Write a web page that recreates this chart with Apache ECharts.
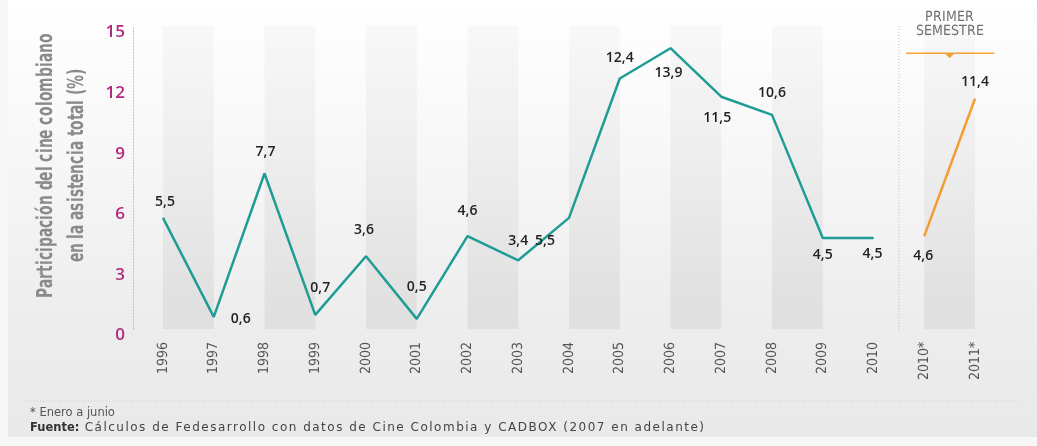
<!DOCTYPE html>
<html>
<head>
<meta charset="utf-8">
<script src="https://cdn.jsdelivr.net/npm/echarts@6/dist/echarts.min.js"></script>
<style>
@font-face{font-family:'CondB';font-weight:bold;
  src:local('Liberation Sans Narrow Bold'),local('LiberationSansNarrow-Bold'),local('DejaVu Sans Condensed Bold'),local('DejaVuSansCondensed-Bold');}
@font-face{font-family:'CondR';font-weight:normal;
  src:local('Liberation Sans Narrow'),local('LiberationSansNarrow-Regular'),local('DejaVu Sans Condensed'),local('DejaVuSansCondensed');}
html,body{margin:0;padding:0;background:#f7f7f7;}
#bg{position:absolute;left:8px;top:0;width:1029px;height:437px;
background:linear-gradient(to bottom,#ffffff 0%,#f7f7f7 35%,#ededed 72%,#e9e9e9 100%);}
#chart{position:absolute;left:0;top:0;width:1037px;height:446px;}
#foot{position:absolute;left:30px;top:405px;font-family:"DejaVu Sans",Verdana,sans-serif;font-size:11.5px;line-height:15px;color:#555;}
#foot .src{letter-spacing:1.5px;color:#444;font-size:12px;}
#foot b{color:#333;letter-spacing:0;}
</style>
</head>
<body>
<div id="bg"></div>
<div id="chart"></div>
<div id="foot"></div>
<script>
// ---- data ----
const categories = ['1996','1997','1998','1999','2000','2001','2002','2003','2004','2005','2006','2007','2008','2009','2010','2010*','2011*'];
const annualShare = [5.5,0.6,7.7,0.7,3.6,0.5,4.6,3.4,5.5,12.4,13.9,11.5,10.6,4.5,4.5,null,null];
const firstSemesterShare = [null,null,null,null,null,null,null,null,null,null,null,null,null,null,null,4.6,11.4];
const yTicks = [0,3,6,9,12,15];
const bandPairs = [['1996','1997'],['1998','1999'],['2000','2001'],['2002','2003'],['2004','2005'],['2006','2007'],['2008','2009'],['2010*','2011*']];
const yAxisTitleLines = ['Participación del cine colombiano','en la asistencia total (%)'];
const headerText = 'PRIMER\nSEMESTRE';
const noteText = '* Enero a junio';
const sourceLabel = 'Fuente:';
const sourceText = ' Cálculos de Fedesarrollo con datos de Cine Colombia y CADBOX (2007 en adelante)';

// label placement (style only): offsets of label centre from point
const labelOffsets = [[2,-16],[27,2],[1,-21],[5,-27],[-2,-26],[0,-32],[0,-25],[0,-19],[-24,23],[0,-21],[-2,25],[-4,21],[0,-22],[0,17],[-1,16],[-1,20],[0,-17]];

document.getElementById('foot').innerHTML = noteText + '<br><b>' + sourceLabel + '</b><span class="src">' + sourceText + '</span>';

const fmt = v => String(v).replace('.', ',');
function withLabels(arr){
  return arr.map((v,i)=> v==null ? null : {value:v, label:{offset:labelOffsets[i]}});
}
const COND_R = 'CondR, "Liberation Sans Narrow", "DejaVu Sans Condensed", sans-serif';
const COND_B = 'CondB, "Liberation Sans Narrow", "DejaVu Sans Condensed", sans-serif';

function render(){
  const labelStyle = {show:true, position:'inside', formatter:p=>fmt(p.value),
    color:'#222', fontSize:14, fontWeight:600, fontFamily:'"Open Sans", Lato, sans-serif'};
  const chart = echarts.init(document.getElementById('chart'), null, {renderer:'canvas'});
  chart.setOption({
    backgroundColor:'transparent',
    animation:false,
    grid:{left:163, right:62, top:26, bottom:117, containLabel:false, outerBoundsMode:'none'},
    xAxis:{type:'category', data:categories, boundaryGap:false,
      axisLine:{show:false}, axisTick:{show:false}, splitLine:{show:false},
      axisLabel:{rotate:90, margin:13, color:'#555', fontSize:14, fontFamily:COND_R}},
    yAxis:{type:'value', min:0, max:15, interval:3, offset:30,
      axisLine:{show:true, lineStyle:{color:'#bbb', type:[1,2], width:1}},
      axisTick:{show:false}, splitLine:{show:false},
      axisLabel:{margin:8,
        formatter:v=> yTicks.includes(v) ? '{t|' + v + '}' : '',
        rich:{t:{color:'#b3287e', fontSize:17, fontWeight:600,
          fontFamily:'"Open Sans", Lato, sans-serif', padding:[13,0,0,0]}}}},
    series:[
      {type:'line', name:'anual', data:withLabels(annualShare), symbol:'circle', symbolSize:1,
        lineStyle:{color:'#1f9c94', width:2.5}, itemStyle:{color:'#1f9c94'}, label:labelStyle, z:3,
        markArea:{silent:true,
          itemStyle:{color:{type:'linear',x:0,y:0,x2:0,y2:1,colorStops:[
            {offset:0,color:'rgba(0,0,0,0.025)'},{offset:1,color:'rgba(0,0,0,0.055)'}]}},
          data:bandPairs.map(p=>[{xAxis:p[0]},{xAxis:p[1]}])}},
      {type:'line', name:'semestre', data:withLabels(firstSemesterShare), symbol:'circle', symbolSize:1,
        lineStyle:{color:'#f39c34', width:2.5}, itemStyle:{color:'#f39c34'}, label:labelStyle, z:3}
    ]
  });

  const px = c => chart.convertToPixel({xAxisIndex:0}, c);
  const py = v => chart.convertToPixel({yAxisIndex:0}, v);
  const xSep = (px('2010') + px('2010*'))/2;
  const xA = px('2010*'), xB = px('2011*');
  const xMid = (xA+xB)/2, step = xB - xA;
  const yTop = py(15), yBot = py(0), yHead = py(13.65);

  // y-axis title, compressed to the reference length
  const titleFont = 'bold 22px ' + COND_B;
  const ctx = document.createElement('canvas').getContext('2d');
  ctx.font = titleFont;
  const w = ctx.measureText(yAxisTitleLines[0]).width;
  const sx = Math.min(1, 264 / w);
  const titleCx = 62, titleCy = (yTop + yBot)/2 - 12;

  chart.setOption({graphic:[
    {type:'group', x:titleCx, y:titleCy, rotation:Math.PI/2, silent:true, children:[
      {type:'text', scaleX:sx, style:{x:0, y:-16, text:yAxisTitleLines[0], align:'center', verticalAlign:'middle',
        fill:'#8a8a8a', font:titleFont}},
      {type:'text', scaleX:sx, style:{x:0, y:15, text:yAxisTitleLines[1], align:'center', verticalAlign:'middle',
        fill:'#8a8a8a', font:titleFont}}
    ]},
    {type:'line', silent:true, shape:{x1:xSep, y1:yTop, x2:xSep, y2:yBot+2},
      style:{stroke:'#bbb', lineWidth:1, lineDash:[1,2]}},
    {type:'text', silent:true, style:{x:xMid, y:yTop-2, text:headerText, align:'center', verticalAlign:'middle',
      fill:'#707070', fontSize:14, lineHeight:14, fontFamily:COND_R}},
    {type:'line', silent:true, shape:{x1:xMid-step*0.86, y1:yHead, x2:xMid+step*0.88, y2:yHead},
      style:{stroke:'#f5a43a', lineWidth:1.5}},
    {type:'polygon', silent:true, shape:{points:[[xMid-5,yHead],[xMid+5,yHead],[xMid,yHead+5]]},
      style:{fill:'#f5a43a'}},
    {type:'line', silent:true, shape:{x1:25, y1:401, x2:1020, y2:401},
      style:{stroke:'#c8c8c8', lineWidth:1, lineDash:[1,2]}}
  ]});
}

if (document.fonts && document.fonts.load) {
  Promise.all([document.fonts.load('bold 22px CondB'), document.fonts.load('14px CondR')])
    .then(render, render);
} else { render(); }
</script>
</body>
</html>
